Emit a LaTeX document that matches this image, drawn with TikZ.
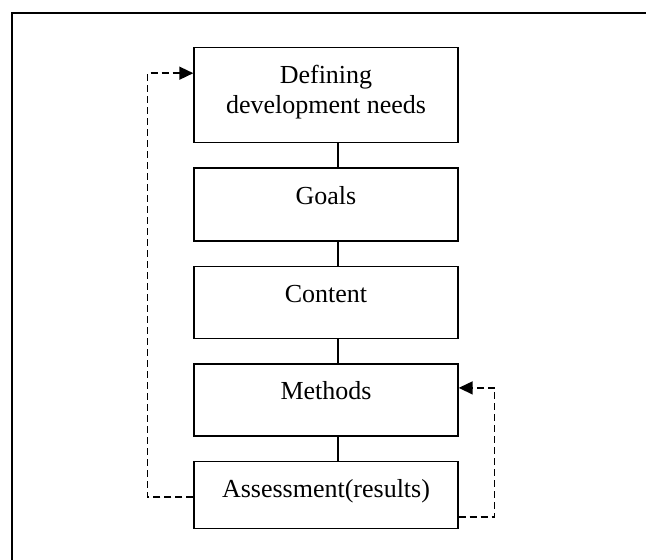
\documentclass[tikz,border=0pt]{standalone}
\usepackage{fontspec}
\setmainfont{Liberation Serif}
\usepackage{tikz}
\usetikzlibrary{positioning}
\usetikzlibrary{arrows.meta}
\tikzset{my_flow/.style={x=0.5pt,y=-0.5pt,line width=0.7pt,font=\fontsize{13}{15}\selectfont}}
\tikzset{my_stage/.style={draw, rectangle, minimum width=132pt, inner xsep=0pt, inner ysep=0pt, align=center, text height=18pt}}
\tikzset{my_link/.style={line width=0.7pt}}
\tikzset{my_feedback/.style={dash pattern=on 3.5pt off 2pt, line width=0.75pt, -{Triangle[length=7pt,width=6.5pt]}}}
\tikzset{my_frame/.style={line width=1.1pt}}

\begin{document}
\begin{tikzpicture}[my_flow]
    \useasboundingbox (0,0) rectangle (646,560);
    %\draw[help lines] (0,0) grid (646,560);
    \coordinate (frame_bl) at (12,560);
    \coordinate (frame_tr) at (646,13);
    \draw[my_frame] (frame_bl) |- (frame_tr);

    \node[my_stage, anchor=north, text height=33pt, text depth=14.5pt] (needs) at (326,47) {Defining\\development needs};
    \node[my_stage, below=12pt of needs, text depth=18.5pt] (goals) {Goals};
    \node[my_stage, below=12pt of goals, text depth=18pt] (content) {Content};
    \node[my_stage, below=12pt of content, text depth=18pt] (methods) {Methods};
    \node[my_stage, below=12pt of methods, text depth=15.5pt] (assess) {Assessment(results)};

    \draw[my_link] ([xshift=6pt]needs.south) -- ([xshift=6pt]goals.north);
    \draw[my_link] ([xshift=6pt]goals.south) -- ([xshift=6pt]content.north);
    \draw[my_link] ([xshift=6pt]content.south) -- ([xshift=6pt]methods.north);
    \draw[my_link] ([xshift=6pt]methods.south) -- ([xshift=6pt]assess.north);

    \draw[my_feedback] ([yshift=-1pt]assess.west) -- ++(-23pt,0) |- ([yshift=11pt]needs.west);
    \draw[my_feedback] ([yshift=-11pt]assess.east) -- ++(18pt,0) |- ([yshift=6pt]methods.east);
\end{tikzpicture}
\end{document}
